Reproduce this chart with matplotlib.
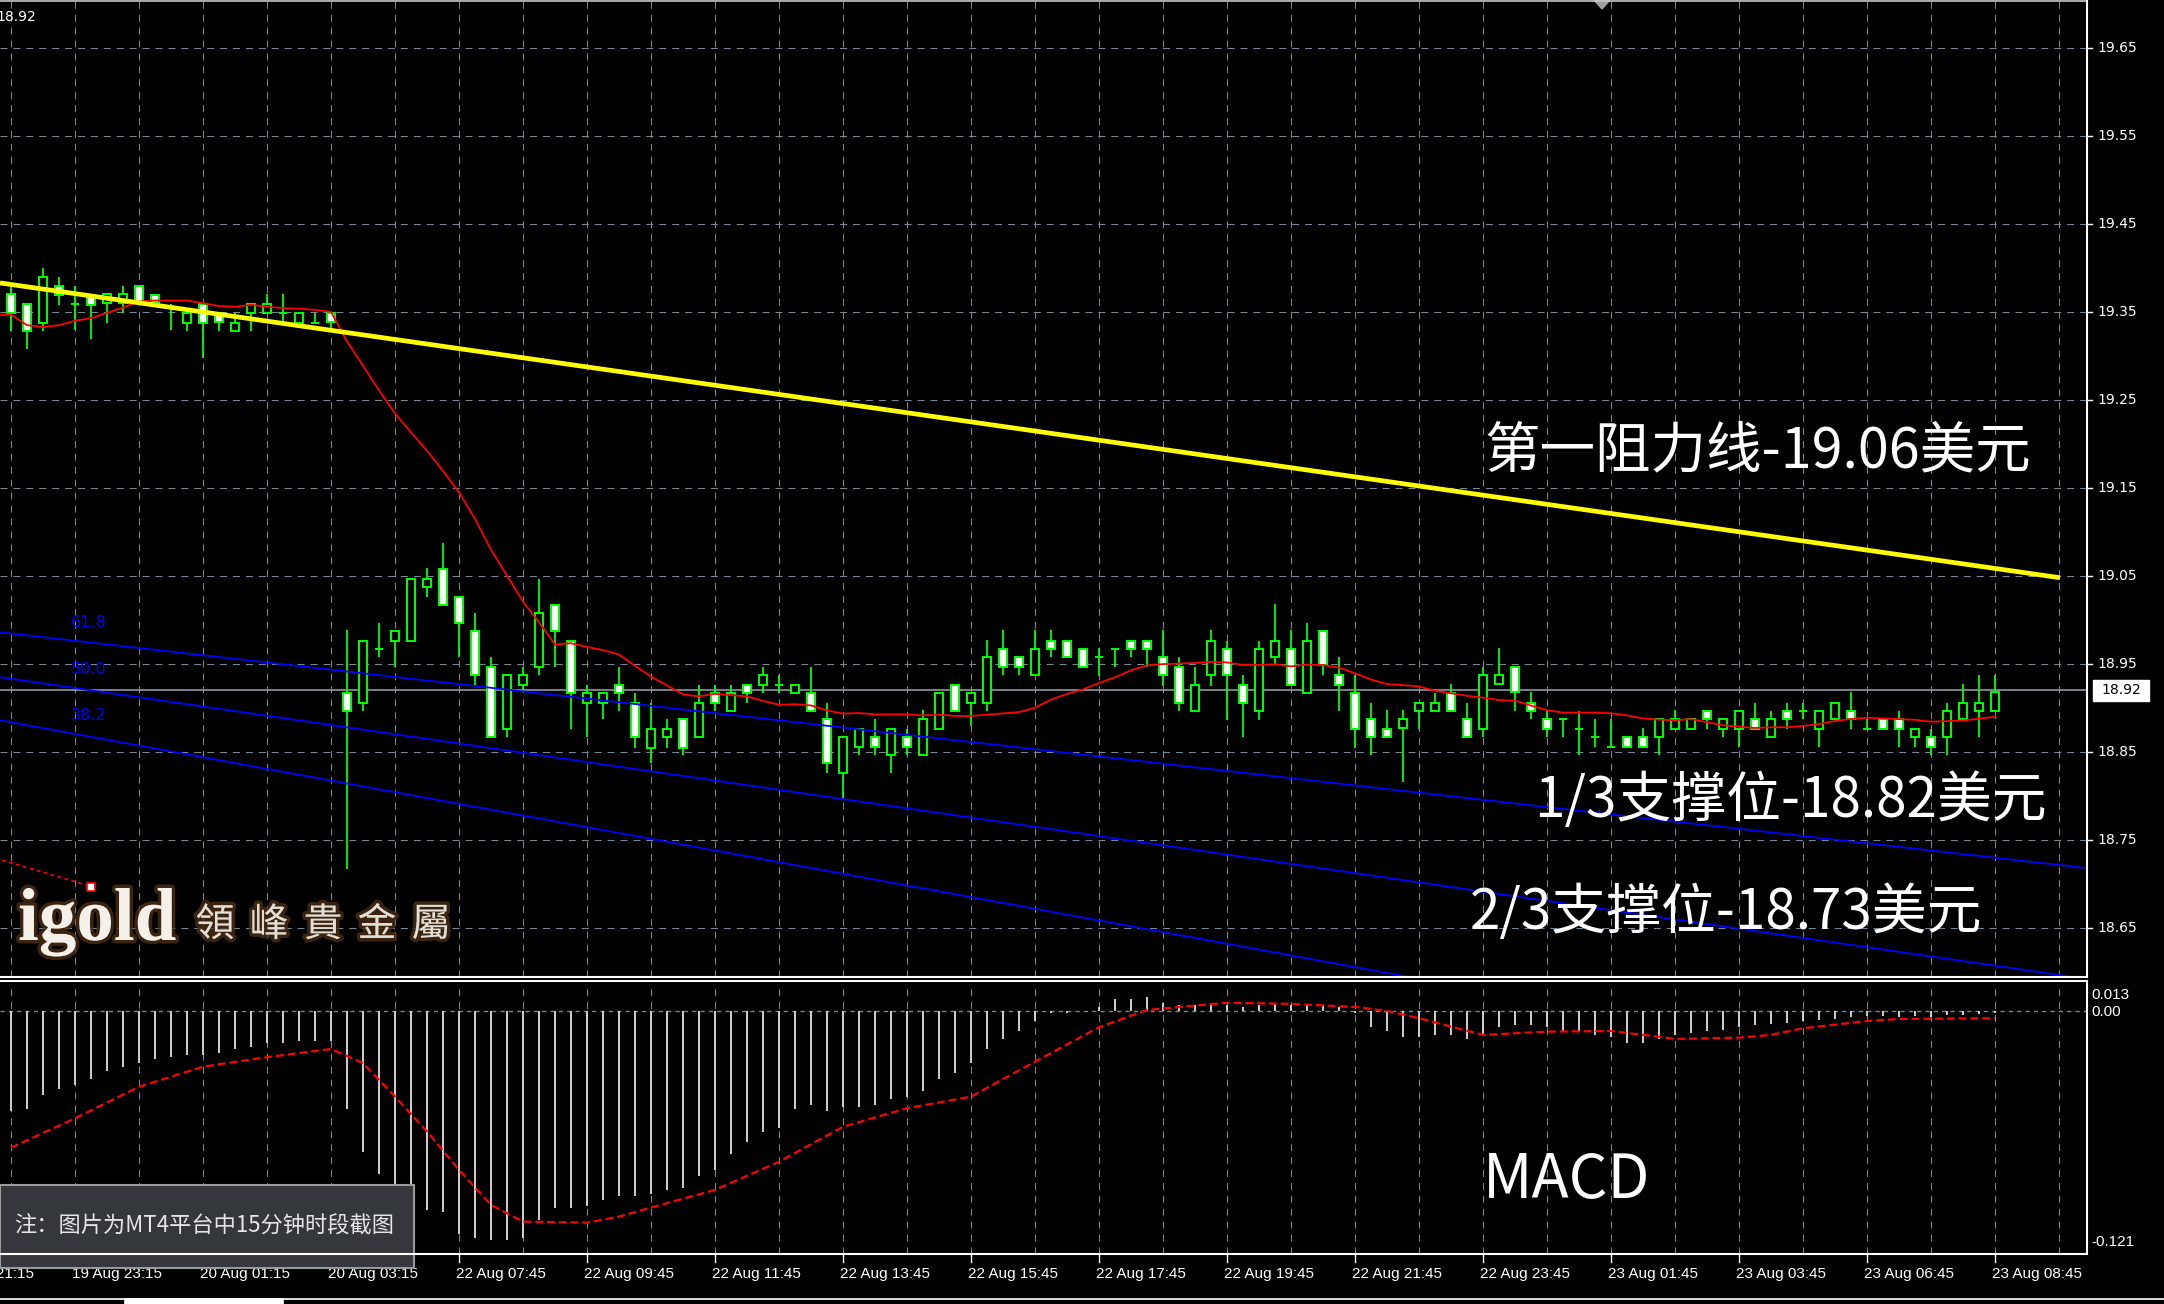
import numpy as np
import pandas as pd
import matplotlib
matplotlib.use('Agg')
import matplotlib.pyplot as plt
from matplotlib.patches import Rectangle, Polygon
import matplotlib.patheffects as pe

# ---- data: 15 minute bars, index -1 .. 124 ----
bars = np.arange(-1, 125)

opens = [19.384,
         19.370, 19.359, 19.337, 19.379, 19.359, 19.369, 19.360, 19.360, 19.379, 19.369,
         19.355, 19.338, 19.359, 19.349, 19.328, 19.349, 19.349, 19.349, 19.338, 19.338,
         19.349, 18.917, 18.906, 18.967, 18.976, 18.976, 19.038, 19.058, 19.026, 18.988,
         18.947, 18.876, 18.926, 18.947, 19.017, 18.976, 18.906, 18.906, 18.926, 18.906,
         18.855, 18.867, 18.887, 18.867, 18.917, 18.896, 18.926, 18.926, 18.926, 18.917,
         18.917, 18.887, 18.826, 18.856, 18.867, 18.847, 18.867, 18.847, 18.876, 18.926,
         18.906, 18.906, 18.967, 18.958, 18.937, 18.976, 18.976, 18.967, 18.958, 18.967,
         18.976, 18.976, 18.958, 18.946, 18.897, 18.937, 18.967, 18.926, 18.897, 18.958,
         18.967, 18.917, 18.988, 18.937, 18.917, 18.887, 18.876, 18.877, 18.897, 18.897,
         18.917, 18.887, 18.876, 18.927, 18.947, 18.906, 18.887, 18.887, 18.876, 18.867,
         18.856, 18.867, 18.867, 18.867, 18.876, 18.876, 18.897, 18.876, 18.876, 18.887,
         18.867, 18.897, 18.897, 18.876, 18.887, 18.897, 18.876, 18.887, 18.887, 18.867,
         18.867, 18.867, 18.887, 18.897, 18.897]
highs = [19.409,
         19.379, 19.359, 19.400, 19.390, 19.379, 19.369, 19.370, 19.379, 19.379, 19.369,
         19.359, 19.349, 19.359, 19.349, 19.349, 19.359, 19.370, 19.370, 19.349, 19.349,
         19.349, 18.989, 18.976, 18.997, 18.988, 19.047, 19.059, 19.088, 19.026, 19.008,
         18.958, 18.937, 18.947, 19.047, 19.017, 18.976, 18.926, 18.917, 18.947, 18.917,
         18.906, 18.887, 18.887, 18.926, 18.926, 18.926, 18.926, 18.947, 18.937, 18.926,
         18.947, 18.906, 18.867, 18.876, 18.888, 18.876, 18.876, 18.898, 18.917, 18.926,
         18.917, 18.977, 18.989, 18.958, 18.989, 18.989, 18.976, 18.967, 18.968, 18.967,
         18.976, 18.976, 18.989, 18.958, 18.946, 18.989, 18.976, 18.937, 18.976, 19.018,
         18.989, 18.997, 18.988, 18.958, 18.937, 18.906, 18.898, 18.898, 18.906, 18.917,
         18.927, 18.906, 18.947, 18.968, 18.947, 18.918, 18.897, 18.887, 18.897, 18.887,
         18.887, 18.867, 18.877, 18.887, 18.898, 18.887, 18.897, 18.887, 18.897, 18.906,
         18.897, 18.906, 18.906, 18.897, 18.906, 18.918, 18.887, 18.887, 18.897, 18.876,
         18.876, 18.906, 18.927, 18.937, 18.937]
lows = [19.384,
        19.328, 19.308, 19.328, 19.358, 19.330, 19.319, 19.337, 19.349, 19.360, 19.360,
        19.330, 19.328, 19.298, 19.328, 19.328, 19.328, 19.349, 19.337, 19.338, 19.338,
        19.330, 18.717, 18.896, 18.958, 18.947, 18.976, 19.026, 19.017, 18.958, 18.925,
        18.867, 18.867, 18.918, 18.937, 18.947, 18.876, 18.867, 18.887, 18.896, 18.855,
        18.837, 18.855, 18.847, 18.867, 18.896, 18.896, 18.906, 18.917, 18.917, 18.917,
        18.897, 18.826, 18.797, 18.847, 18.847, 18.826, 18.847, 18.847, 18.876, 18.897,
        18.879, 18.897, 18.937, 18.937, 18.937, 18.958, 18.958, 18.946, 18.936, 18.946,
        18.958, 18.946, 18.925, 18.897, 18.897, 18.925, 18.886, 18.867, 18.886, 18.949,
        18.926, 18.917, 18.937, 18.897, 18.854, 18.847, 18.867, 18.816, 18.876, 18.897,
        18.897, 18.867, 18.867, 18.927, 18.897, 18.887, 18.867, 18.867, 18.847, 18.856,
        18.856, 18.856, 18.856, 18.847, 18.876, 18.876, 18.876, 18.867, 18.856, 18.876,
        18.867, 18.876, 18.887, 18.856, 18.887, 18.876, 18.876, 18.876, 18.856, 18.856,
        18.847, 18.847, 18.887, 18.867, 18.897]
closes = [19.409,
          19.349, 19.328, 19.390, 19.369, 19.359, 19.358, 19.370, 19.370, 19.360, 19.360,
          19.355, 19.349, 19.338, 19.339, 19.338, 19.359, 19.359, 19.349, 19.349, 19.338,
          19.339, 18.897, 18.976, 18.967, 18.988, 19.047, 19.047, 19.017, 18.997, 18.937,
          18.867, 18.937, 18.937, 19.008, 18.988, 18.917, 18.917, 18.917, 18.917, 18.867,
          18.876, 18.876, 18.855, 18.906, 18.906, 18.917, 18.917, 18.937, 18.926, 18.926,
          18.897, 18.837, 18.867, 18.876, 18.856, 18.876, 18.856, 18.888, 18.917, 18.897,
          18.917, 18.958, 18.946, 18.946, 18.967, 18.967, 18.958, 18.946, 18.958, 18.967,
          18.967, 18.967, 18.937, 18.906, 18.926, 18.976, 18.937, 18.906, 18.967, 18.976,
          18.926, 18.976, 18.949, 18.926, 18.876, 18.867, 18.867, 18.888, 18.906, 18.906,
          18.897, 18.867, 18.937, 18.937, 18.918, 18.897, 18.876, 18.887, 18.876, 18.867,
          18.856, 18.856, 18.856, 18.887, 18.887, 18.887, 18.887, 18.887, 18.897, 18.876,
          18.887, 18.887, 18.897, 18.897, 18.906, 18.887, 18.876, 18.876, 18.876, 18.876,
          18.856, 18.897, 18.906, 18.906, 18.918]

# MA(14) for the first bars (its window starts before the visible data)
ma_lead = [19.347, 19.347, 19.335, 19.333, 19.335, 19.340, 19.343, 19.349,
           19.355, 19.362, 19.363, 19.363, 19.363, 19.360]

macd_hist = [-0.051,
             -0.050, -0.049, -0.042, -0.039, -0.037, -0.034, -0.030, -0.028, -0.026, -0.024,
             -0.023, -0.022, -0.022, -0.021, -0.019, -0.018, -0.016, -0.016, -0.015, -0.015,
             -0.015, -0.049, -0.070, -0.081, -0.089, -0.093, -0.099, -0.100, -0.111, -0.113,
             -0.114, -0.114, -0.113, -0.104, -0.098, -0.098, -0.097, -0.094, -0.092, -0.092,
             -0.091, -0.089, -0.088, -0.082, -0.079, -0.071, -0.065, -0.060, -0.058, -0.049,
             -0.047, -0.050, -0.048, -0.048, -0.047, -0.044, -0.043, -0.040, -0.034, -0.031,
             -0.026, -0.019, -0.014, -0.010, -0.005, -0.001, -0.001, 0.000, 0.002, 0.006,
             0.006, 0.007, 0.004, 0.003, 0.003, 0.004, 0.003, 0.002, 0.003, 0.004,
             0.003, 0.003, 0.003, 0.002, -0.001, -0.008, -0.010, -0.013, -0.013, -0.012,
             -0.012, -0.014, -0.012, -0.008, -0.007, -0.007, -0.008, -0.010, -0.010, -0.012,
             -0.013, -0.016, -0.016, -0.014, -0.012, -0.011, -0.010, -0.0095, -0.008, -0.007,
             -0.0065, -0.006, -0.005, -0.0045, -0.004, -0.003, -0.0025, -0.0025, -0.003, -0.0025,
             -0.003, -0.002, -0.002, -0.0015, -0.001]

sig_bars = [0, 4, 8, 12, 16, 20, 22, 24, 26, 28, 30, 32, 36, 38, 40, 44, 48, 52, 56, 60,
            64, 68, 71, 76, 80, 84, 86, 88, 90, 92, 96, 100, 102, 104, 108, 110, 112, 116, 118, 124]
sig_vals = [-0.068, -0.0534, -0.0377, -0.0277, -0.023, -0.0189, -0.026, -0.0426, -0.060, -0.0791,
            -0.0965, -0.1048, -0.1053, -0.1023, -0.0978, -0.089, -0.075, -0.0576, -0.0484, -0.0426,
            -0.0252, -0.0081, 0.0005, 0.0041, 0.0035, 0.002, 0.0, -0.0036, -0.0078, -0.0119,
            -0.0103, -0.010, -0.0119, -0.0139, -0.0133, -0.0119, -0.0086, -0.005, -0.004, -0.0036]

price_ticks = [19.65, 19.55, 19.45, 19.35, 19.25, 19.15, 19.05, 18.95, 18.85, 18.75, 18.65]
last_price = 18.92

time_bars = [-4, 4, 12, 20, 28, 36, 44, 52, 60, 68, 76, 84, 92, 100, 108, 116, 124]
time_labels = ['19 Aug 21:15', '19 Aug 23:15', '20 Aug 01:15', '20 Aug 03:15',
               '22 Aug 07:45', '22 Aug 09:45', '22 Aug 11:45', '22 Aug 13:45',
               '22 Aug 15:45', '22 Aug 17:45', '22 Aug 19:45', '22 Aug 21:45',
               '22 Aug 23:45', '23 Aug 01:45', '23 Aug 03:45', '23 Aug 06:45',
               '23 Aug 08:45']

# drawn objects (bar, price)
res_bars = [-0.6875, 128.06]
res_prices = [19.383, 19.048]
fan_labels = ['61.8', '50.0', '38.2']
fan_left = [18.986, 18.935, 18.886]
fan_right = [18.718, 18.592, 18.454]
trend_bars = [-0.56, 5.03]
trend_prices = [18.727, 18.697]

# ---- layout ----
W, H = 2164, 1304
X_LEFT, X_RIGHT = -0.6875, 129.75
P_BOT, P_TOP = 18.5943, 19.7045
M_BOT, M_TOP = -0.1209, 0.0139
GRID = '#778899'
LIME = '#00ff00'
DASH = (0, (6.7, 5.7))
CJK = ['Noto Sans CJK SC', 'DejaVu Sans']

fig = plt.figure(figsize=(W / 100, H / 100), dpi=100, facecolor='black')
ax = fig.add_axes([0, 1 - 977 / H, 2087 / W, 977 / H])
ax2 = fig.add_axes([0, 1 - 1254 / H, 2087 / W, (1254 - 983) / H])
for a in (ax, ax2):
    a.set_facecolor('black')
    a.set_xlim(X_LEFT, X_RIGHT)
    a.set_xticks([])
    a.set_yticks([])
    for s in a.spines.values():
        s.set_visible(False)
ax.set_ylim(P_BOT, P_TOP)
ax2.set_ylim(M_BOT, M_TOP)

# grid
for k in range(0, 130, 4):
    ax.axvline(k, color=GRID, lw=0.75, ls=DASH, zorder=1)
    ax2.axvline(k, color=GRID, lw=0.75, ls=DASH, zorder=1)
for p in price_ticks:
    ax.axhline(p, color=GRID, lw=0.75, ls=DASH, zorder=1)
ax.axhline(last_price, color='#8c98a4', lw=1.2, zorder=2)

# candles
body_w = 0.56
for k, o, h, l, c in zip(bars, opens, highs, lows, closes):
    ax.plot([k, k], [l, h], color=LIME, lw=1.3, zorder=3, solid_capstyle='butt')
    fill = 'white' if c < o else 'black'
    ax.add_patch(Rectangle((k - body_w / 2, min(o, c)), body_w, abs(c - o),
                           facecolor=fill, edgecolor=LIME, lw=1.4, zorder=4))

ma = pd.Series(closes).rolling(14).mean().to_numpy()
ma[:len(ma_lead)] = ma_lead
ax.plot(bars, ma, color='red', lw=1.3, zorder=5)

# fibonacci fan and resistance line
for lab, p0, p1 in zip(fan_labels, fan_left, fan_right):
    ax.plot([X_LEFT, X_RIGHT], [p0, p1], color='#0000ff', lw=1.3, zorder=6)
    py = np.interp(3.75, [X_LEFT, X_RIGHT], [p0, p1]) + 0.0205
    ax.text(3.75, py, lab, color='#0000ff', fontsize=11.5, va='center', ha='left', zorder=7)
ax.plot(res_bars, res_prices, color='#ffff00', lw=3.4, zorder=6, solid_capstyle='butt')
ax.plot(trend_bars, trend_prices, color='red', lw=1.3, ls=(0, (2, 2)), zorder=6)
ax.plot(trend_bars[-1], trend_prices[-1], marker='s', ms=6, mfc='white', mec='red', mew=1.2, zorder=7)

# price axis
ytr = ax.get_yaxis_transform()
for p in price_ticks:
    ax.plot([1.0, 1.0025], [p, p], transform=ytr, color='white', lw=1, clip_on=False)
    ax.text(1.0048, p, f'{p:.2f}', transform=ytr, color='white', fontsize=10,
            va='center', ha='left')
ax.add_patch(Rectangle((1.0029, last_price - 0.012), 0.0268, 0.024, transform=ytr,
                       facecolor='white', edgecolor='white', clip_on=False, zorder=8))
ax.text(1.0163, last_price, f'{last_price:.2f}', transform=ytr, color='black', fontsize=10,
        va='center', ha='center', zorder=9)

# MACD
ax2.axhline(0, color=GRID, lw=1.0, ls=(0, (3, 3)), zorder=1)
ax2.vlines(bars, 0, macd_hist, colors='#d0d0d0', lw=1.4, zorder=3)
ax2.plot(sig_bars, sig_vals, color='red', lw=1.6, ls=(0, (3.5, 1.8)), zorder=4)
for txt, yy in [('0.013', 0.956), ('0.00', 0.893), ('-0.121', 0.044)]:
    ax2.text(1.002, yy, txt, transform=ax2.transAxes, color='white', fontsize=11,
             family='Liberation Sans', va='center', ha='left')

xtr = ax2.get_xaxis_transform()
for k, lab in zip(time_bars, time_labels):
    ax2.plot([k, k], [0, -0.03], transform=xtr, color='white', lw=1, clip_on=False)
    ax2.text(k - 0.19, -0.074, lab, transform=xtr, color='white', fontsize=11,
             family='Liberation Sans', va='center', ha='left')

# ---- overlay in pixel coordinates: borders, labels, logo ----
ov = fig.add_axes([0, 0, 1, 1])
ov.set_xlim(0, W)
ov.set_ylim(H, 0)
ov.axis('off')
ov.patch.set_alpha(0)
ov.plot([0, 2087], [1, 1], color='#c8c8c8', lw=1.2)
ov.plot([2087, 2087], [0, 977], color='white', lw=1.5)
ov.plot([0, 2087], [977, 977], color='white', lw=1.5)
ov.plot([0, 2087], [981, 981], color='white', lw=1.5)
ov.plot([2087, 2087], [981, 1254], color='white', lw=1.5)
ov.plot([0, 2087], [1254, 1254], color='white', lw=1.5)
ov.plot([0, 125, 125], [1299, 1299, 1304], color='white', lw=1.2)
ov.add_patch(Rectangle((125, 1298), 158, 6, facecolor='white', edgecolor='none'))
ov.plot([283, 283, W], [1304, 1299, 1299], color='white', lw=1.2)
ov.add_patch(Polygon([(1594, 0), (1610, 0), (1602, 9)], closed=True, color='#a0a0a0'))
ov.text(-4, 17, '18.92', color='white', fontsize=10, va='center', ha='left')

ov.text(1484, 452, '第一阻力线-19.06美元', color='white', fontsize=40, family=CJK, va='center')
ov.text(1534, 801, '1/3支撑位-18.82美元', color='white', fontsize=39.5, family=CJK, va='center')
ov.text(1470, 913, '2/3支撑位-18.73美元', color='white', fontsize=39.5, family=CJK, va='center')
ov.text(1483, 1181, 'MACD', color='white', fontsize=44, family=CJK, va='center')

glow = [pe.withStroke(linewidth=5, foreground='#4a2e14', alpha=0.8)]
ov.text(18, 940, 'igold', color='#f4f0ea', fontsize=54, family='Liberation Serif',
        weight='bold', va='baseline', ha='left', path_effects=glow)
for i, ch in enumerate('領峰貴金屬'):
    ov.text(215 + 54 * i, 925, ch, color='#e2ded8', fontsize=28,
            family=['Noto Sans CJK TC', 'DejaVu Sans'], va='center', ha='center',
            path_effects=glow)

ov.add_patch(Rectangle((0, 1185), 414, 83, facecolor='#34373b', edgecolor='#9a9a9a', lw=1.5))
ov.text(14, 1226, '注：图片为MT4平台中15分钟时段截图', color='#e6e6e6', fontsize=16,
        family=CJK, va='center', ha='left')

fig.savefig('out.png', dpi=100, facecolor='black')
